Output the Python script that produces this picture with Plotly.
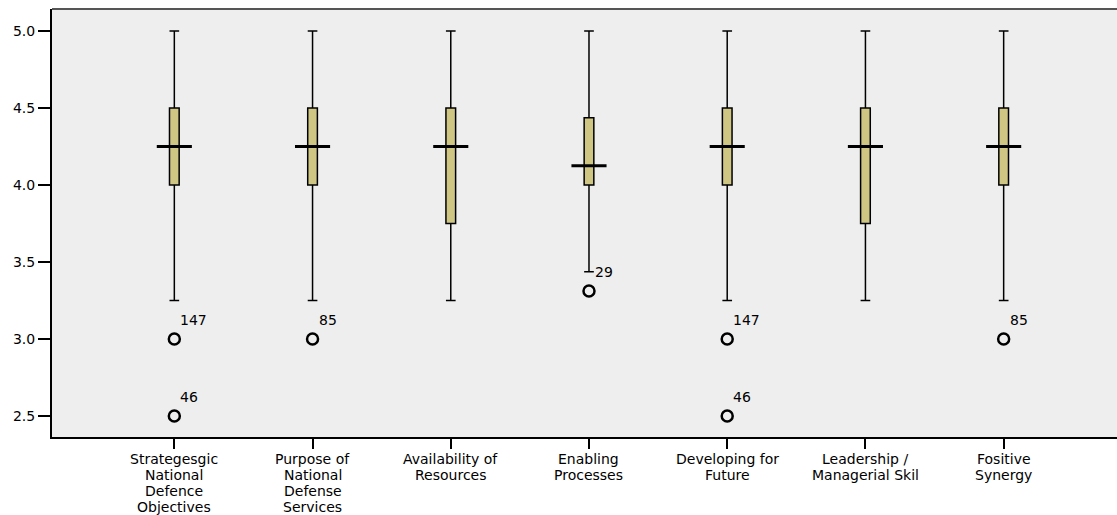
import plotly.graph_objects as go

categories = [
    "Strategesgic<br>National<br>Defence<br>Objectives",
    "Purpose of<br>National<br>Defense<br>Services",
    "Availability of<br>Resources",
    "Enabling<br>Processes",
    "Developing for<br>Future",
    "Leadership /<br>Managerial Skil",
    "Fositive<br>Synergy",
]
q1 = [4.0, 4.0, 3.75, 4.0, 4.0, 3.75, 4.0]
median = [4.25, 4.25, 4.25, 4.125, 4.25, 4.25, 4.25]
q3 = [4.5, 4.5, 4.5, 4.4375, 4.5, 4.5, 4.5]
lower_whisker = [3.25, 3.25, 3.25, 3.4375, 3.25, 3.25, 3.25]
upper_whisker = [5.0, 5.0, 5.0, 5.0, 5.0, 5.0, 5.0]

outlier_cat = [0, 0, 1, 3, 4, 4, 6]
outlier_val = [3.0, 2.5, 3.0, 3.3125, 3.0, 2.5, 3.0]
outlier_id = ["147", "46", "85", "29", "147", "46", "85"]

y_ticks = [2.5, 3.0, 3.5, 4.0, 4.5, 5.0]

FONT = "DejaVu Sans, Verdana, sans-serif"
xs = list(range(len(categories)))

fig = go.Figure()
fig.add_trace(go.Box(
    x=xs, q1=q1, median=median, q3=q3,
    lowerfence=lower_whisker, upperfence=upper_whisker,
    width=0.07, whiskerwidth=1,
    fillcolor="#cfc684", line=dict(color="black", width=1.5),
    boxpoints=False, showlegend=False, hoverinfo="skip",
))

mx, my = [], []
half = 0.127
for i, m in zip(xs, median):
    mx += [i - half, i + half, None]
    my += [m, m, None]
fig.add_trace(go.Scatter(
    x=mx, y=my, mode="lines", line=dict(color="black", width=3),
    showlegend=False, hoverinfo="skip",
))

fig.add_trace(go.Scatter(
    x=outlier_cat, y=outlier_val, mode="markers",
    marker=dict(symbol="circle-open", size=11, color="black", line=dict(width=2.5)),
    showlegend=False, hoverinfo="skip",
))

annotations = []
for c, v, t in zip(outlier_cat, outlier_val, outlier_id):
    annotations.append(dict(
        x=c, y=v, xref="x", yref="y", text=t, showarrow=False,
        xanchor="left", yanchor="middle", xshift=4, yshift=19,
        font=dict(family=FONT, size=14, color="black"),
    ))
for i, label in zip(xs, categories):
    for k, line in enumerate(label.split("<br>")):
        annotations.append(dict(
            x=i, y=0, xref="x", yref="paper", text=line, showarrow=False,
            xanchor="center", yanchor="middle", yshift=-(22 + 16 * k),
            font=dict(family=FONT, size=14, color="black"),
        ))

fig.update_layout(
    width=1117, height=515,
    margin=dict(l=52, r=0, t=9, b=78),
    paper_bgcolor="white", plot_bgcolor="#eeeeee",
    font=dict(family=FONT, size=14, color="black"),
    annotations=annotations,
    shapes=[dict(type="line", xref="paper", yref="paper", x0=0, x1=1, y0=1, y1=1,
                 line=dict(color="#555555", width=2))],
)
fig.update_xaxes(
    range=[-0.885, 6.82], tickmode="array", tickvals=xs, ticktext=[""] * len(xs),
    showgrid=False, zeroline=False, showline=True, linecolor="black", linewidth=2,
    ticks="outside", ticklen=10, tickwidth=2, tickcolor="black",
    automargin=False,
)
fig.update_yaxes(
    range=[2.364, 5.143], tickmode="array", tickvals=y_ticks,
    ticktext=[f"{v:.1f}" for v in y_ticks],
    showgrid=False, zeroline=False, showline=True, linecolor="black", linewidth=2,
    ticks="outside", ticklen=12, tickwidth=2, tickcolor="black",
    ticklabelstandoff=0, automargin=False,
    tickfont=dict(size=14),
)

fig.write_html(
    "out.html",
    config={"displayModeBar": False, "staticPlot": True},
    post_script="document.body.style.margin='0';document.body.style.overflow='hidden';",
)
